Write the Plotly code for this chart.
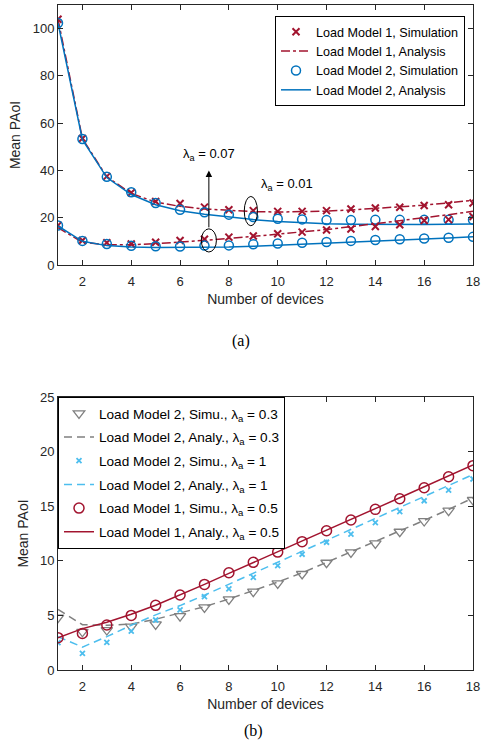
import plotly.graph_objects as go

devices = list(range(1, 19))

# ---- (a) top panel ----
lm1_sim_low = [104.0, 53.5, 37.5, 30.6, 26.9, 26.0, 24.5, 23.4, 23.0, 22.7, 22.7, 23.0, 23.7, 24.1, 24.4, 25.2, 25.5, 26.2]
lm1_ana_low = [104.0, 53.5, 37.3, 30.3, 26.6, 24.8, 23.7, 23.0, 22.6, 22.4, 22.5, 22.8, 23.3, 23.9, 24.5, 25.3, 26.3, 27.4]
lm2_sim_low = [102.4, 53.3, 37.3, 30.8, 26.2, 23.4, 22.3, 21.3, 20.3, 19.6, 19.3, 19.0, 19.0, 19.1, 19.1, 19.1, 19.1, 19.1]
lm2_ana_low = [102.4, 53.0, 37.0, 29.8, 25.5, 23.0, 21.5, 20.3, 19.2, 18.4, 17.8, 17.4, 17.2, 17.1, 17.1, 17.1, 17.2, 17.3]

lm1_sim_high = [16.8, 10.4, 9.4, 8.9, 9.6, 10.4, 10.9, 11.8, 12.3, 13.2, 13.9, 14.8, 15.2, 16.3, 17.0, 18.8, 19.2, 20.5]
lm1_ana_high = [15.8, 9.6, 8.6, 8.6, 9.0, 9.7, 10.3, 11.2, 12.1, 13.0, 14.0, 15.0, 16.2, 17.4, 18.6, 19.9, 21.3, 22.7]
lm2_sim_high = [16.7, 10.2, 8.9, 8.1, 7.9, 7.8, 8.2, 8.3, 8.8, 9.1, 9.4, 9.7, 10.2, 10.6, 10.9, 11.2, 11.5, 11.9]
lm2_ana_high = [16.5, 10.0, 8.2, 7.6, 7.4, 7.4, 7.4, 7.6, 7.9, 8.3, 8.7, 9.2, 9.6, 10.1, 10.5, 11.0, 11.4, 11.9]

# ---- (b) bottom panel ----
lm2_sim_03 = [4.8, 3.5, 3.66, 3.97, 4.18, 4.94, 5.74, 6.47, 7.17, 7.93, 8.79, 9.82, 10.77, 11.6, 12.66, 13.64, 14.59, 15.57]
lm2_ana_03 = [5.55, 4.15, 4.1, 4.2, 4.65, 5.25, 5.8, 6.5, 7.25, 8.05, 8.9, 9.85, 10.8, 11.75, 12.7, 13.7, 14.7, 15.75]
lm2_sim_1 = [2.5, 1.52, 2.53, 3.57, 4.58, 5.5, 6.72, 7.42, 8.49, 9.55, 10.6, 11.7, 12.45, 13.49, 14.5, 15.5, 16.48, 17.49]
lm2_ana_1 = [3.05, 2.1, 3.05, 4.1, 5.05, 5.9, 6.85, 7.85, 8.85, 9.85, 10.85, 11.9, 12.9, 13.9, 14.9, 15.9, 16.9, 17.9]
lm1_sim_05 = [2.96, 3.35, 4.12, 5.0, 5.92, 6.87, 7.84, 8.91, 9.86, 10.8, 11.75, 12.75, 13.74, 14.71, 15.68, 16.69, 17.7, 18.71]
lm1_ana_05 = [2.96, 3.79, 4.37, 5.1, 5.93, 6.87, 7.84, 8.85, 9.85, 10.85, 11.82, 12.8, 13.8, 14.78, 15.77, 16.77, 17.77, 18.78]

x_ticks = [2, 4, 6, 8, 10, 12, 14, 16, 18]
y_ticks_a = [0, 20, 40, 60, 80, 100]
y_ticks_b = [0, 5, 10, 15, 20, 25]

RED = "#A2142F"
BLUE = "#0072BD"
CYAN = "#4DBEEE"
GRAY = "#808080"
AX = "#262626"
FONT = "Liberation Sans, Arial, sans-serif"

fig = go.Figure()
_gid = [0]

def add(y, name, mode, color, xa, ya, legend, show=True, symbol=None, dash="solid", msize=8, mlw=1.5):
    _gid[0] += 1
    kw = dict(x=devices, y=y, name=name, mode=mode, xaxis=xa, yaxis=ya,
              legend=legend, showlegend=show, legendgroup="g%d" % _gid[0])
    if "markers" in mode:
        kw["marker"] = dict(symbol=symbol, size=msize, color=color,
                            line=dict(color=color, width=mlw))
    if "lines" in mode:
        kw["line"] = dict(color=color, width=1.5, dash=dash)
    fig.add_trace(go.Scatter(**kw))

# top panel traces (lambda 0.01 upper set, lambda 0.07 lower set)
add(lm1_sim_low, "Load Model 1, Simulation", "markers", RED, "x", "y", "legend", True, "x-thin", msize=7, mlw=2)
add(lm1_ana_low, "Load Model 1, Analysis", "lines", RED, "x", "y", "legend", True, dash="dashdot")
add(lm2_sim_low, "Load Model 2, Simulation", "markers", BLUE, "x", "y", "legend", True, "circle-open", msize=9)
add(lm2_ana_low, "Load Model 2, Analysis", "lines", BLUE, "x", "y", "legend", True)
add(lm1_sim_high, "lm1 sim", "markers", RED, "x", "y", "legend", False, "x-thin", msize=7, mlw=2)
add(lm1_ana_high, "lm1 ana", "lines", RED, "x", "y", "legend", False, dash="dashdot")
add(lm2_sim_high, "lm2 sim", "markers", BLUE, "x", "y", "legend", False, "circle-open", msize=9)
add(lm2_ana_high, "lm2 ana", "lines", BLUE, "x", "y", "legend", False)

# bottom panel traces
add(lm2_sim_03, "Load Model 2, Simu., λ<sub>a</sub> = 0.3", "markers", GRAY, "x2", "y2", "legend2", True, "triangle-down-open", msize=10, mlw=1.3)
add(lm2_ana_03, "Load Model 2, Analy., λ<sub>a</sub> = 0.3", "lines", GRAY, "x2", "y2", "legend2", True, dash="8px,5px")
add(lm2_sim_1, "Load Model 2, Simu., λ<sub>a</sub> = 1", "markers", CYAN, "x2", "y2", "legend2", True, "x-thin", msize=5, mlw=1.8)
add(lm2_ana_1, "Load Model 2, Analy., λ<sub>a</sub> = 1", "lines", CYAN, "x2", "y2", "legend2", True, dash="8px,5px")
add(lm1_sim_05, "Load Model 1, Simu., λ<sub>a</sub> = 0.5", "markers", RED, "x2", "y2", "legend2", True, "circle-open", msize=10)
add(lm1_ana_05, "Load Model 1, Analy., λ<sub>a</sub> = 0.5", "lines", RED, "x2", "y2", "legend2", True)

axis_common = dict(showline=True, mirror="ticks", linecolor=AX, linewidth=1, ticks="inside",
                   ticklen=5, tickcolor=AX, showgrid=False, zeroline=False, automargin=False,
                   tickfont=dict(family=FONT, size=13, color=AX))

W, H = 482, 753
xdom = [58 / W, 473 / W]
ydom_a = [1 - 265 / H, 1 - 5 / H]
ydom_b = [1 - 670 / H, 1 - 397 / H]

xtitle = dict(text="Number of devices", font=dict(size=14, color=AX), standoff=6)
ytitle = dict(text="Mean PAoI", font=dict(size=14, color=AX), standoff=8)

fig.update_layout(
    width=W, height=H, margin=dict(l=0, r=0, t=0, b=0, autoexpand=False),
    paper_bgcolor="white", plot_bgcolor="white",
    font=dict(family=FONT, color=AX),
    xaxis=dict(domain=xdom, range=[1, 18], tickvals=x_ticks, anchor="y", ticklabelstandoff=4,
               title=xtitle, **axis_common),
    yaxis=dict(domain=ydom_a, range=[0, 110], tickvals=y_ticks_a, anchor="x",
               title=ytitle, **axis_common),
    xaxis2=dict(domain=xdom, range=[1, 18], tickvals=x_ticks, anchor="y2", ticklabelstandoff=4,
                title=xtitle, **axis_common),
    yaxis2=dict(domain=ydom_b, range=[0, 25], tickvals=y_ticks_b, anchor="x2",
                title=ytitle, **axis_common),
    legend=dict(x=465 / W, y=1 - 16 / H, xanchor="right", yanchor="top",
                bgcolor="white", bordercolor="#000000", borderwidth=1,
                font=dict(family=FONT, size=12.6, color="#000000"), tracegroupgap=0),
    legend2=dict(x=58 / W, y=1 - 397 / H, xanchor="left", yanchor="top",
                 bgcolor="white", bordercolor="#000000", borderwidth=1,
                 font=dict(family=FONT, size=13.6, color="#000000"), tracegroupgap=3),
)

# ellipses and annotations on panel (a)
fig.add_shape(type="circle", xref="x", yref="y", x0=6.87, x1=7.49, y0=5.5, y1=15.3,
              line=dict(color="black", width=1))
fig.add_shape(type="circle", xref="x", yref="y", x0=8.63, x1=9.17, y0=16.6, y1=29.0,
              line=dict(color="black", width=1))
fig.add_annotation(x=7.18, y=40.0, ax=7.18, ay=15.3, xref="x", yref="y", axref="x", ayref="y",
                   text="", showarrow=True, arrowhead=2, arrowsize=1.3, arrowwidth=1, arrowcolor="black")
fig.add_annotation(x=7.2, y=42.5, xref="x", yref="y", text="λ<sub>a</sub> = 0.07", showarrow=False,
                   font=dict(family=FONT, size=13, color="black"), yanchor="bottom")
fig.add_annotation(x=10.4, y=29.5, xref="x", yref="y", text="λ<sub>a</sub> = 0.01", showarrow=False,
                   font=dict(family=FONT, size=13, color="black"), yanchor="bottom")

# captions
fig.add_annotation(x=241 / W, y=1 - 341 / H, xref="paper", yref="paper", text="(a)", showarrow=False,
                   font=dict(family="Liberation Serif, Times New Roman, serif", size=16, color="black"))
fig.add_annotation(x=253 / W, y=1 - 742 / H, xref="paper", yref="paper", text="(b)", showarrow=False,
                   font=dict(family="Liberation Serif, Times New Roman, serif", size=16, color="black"))

fig.write_html("out.html")
